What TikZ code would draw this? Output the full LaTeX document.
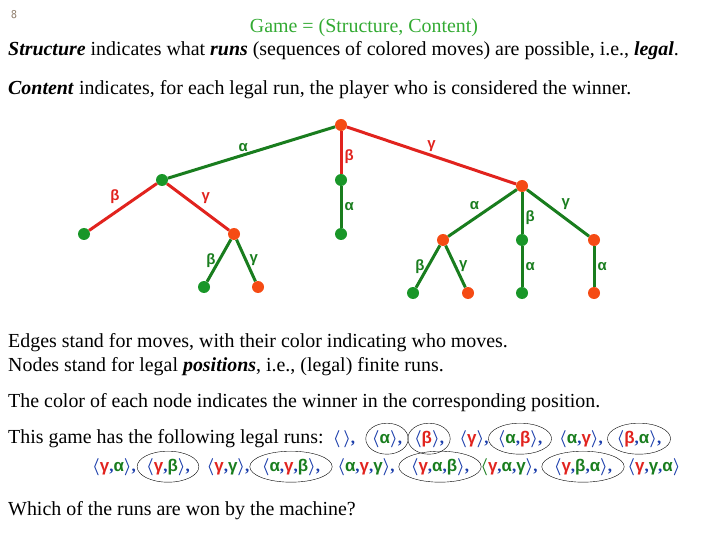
\documentclass[tikz,border=0pt]{standalone}
\usepackage{fontspec}
\setmainfont{Liberation Serif}
\newfontfamily\grkfont{Liberation Sans}
\usetikzlibrary{shapes.geometric}

\definecolor{movegreen}{RGB}{25,125,30}
\definecolor{movered}{RGB}{225,35,30}
\definecolor{nodegreen}{RGB}{25,150,40}
\definecolor{nodered}{RGB}{245,75,20}
\definecolor{titlegreen}{RGB}{50,170,50}
\definecolor{runblue}{RGB}{25,60,170}
\definecolor{pagegray}{RGB}{130,110,90}

\newcommand{\gmv}[1]{\textcolor{movegreen}{\grkfont\bfseries #1}}
\newcommand{\rmv}[1]{\textcolor{movered}{\grkfont\bfseries #1}}
\newcommand{\runL}{\textcolor{runblue}{\boldmath$\langle$}}
\newcommand{\runR}{\textcolor{runblue}{\boldmath$\rangle$}}
\newcommand{\runC}{\textcolor{runblue}{\textbf{,}}}

\tikzset{
    posn/.style={circle, inner sep=0pt, minimum size=12bp},
    gpos/.style={posn, fill=nodegreen},
    rpos/.style={posn, fill=nodered},
    gmove/.style={draw=movegreen, line width=3bp},
    rmove/.style={draw=movered, line width=3bp},
    glbl/.style={text=movegreen, font=\grkfont\bfseries\fontsize{15}{15}\selectfont, inner sep=2bp},
    rlbl/.style={text=movered, font=\grkfont\bfseries\fontsize{15}{15}\selectfont, inner sep=2bp},
    txt/.style={anchor=base west, inner sep=0pt, font=\fontsize{20}{24}\selectfont},
    run/.style={anchor=base, inner sep=0pt, font=\fontsize{17}{18}\selectfont},
    won/.style={run, ellipse, draw, thin, inner xsep=0pt, minimum height=31bp}
}

\begin{document}
\begin{tikzpicture}[x=1bp, y=-1bp]
    \useasboundingbox (0,0) rectangle (720,540);

    \node[anchor=base, text=pagegray, font=\sffamily\fontsize{12}{12}\selectfont] (page) at (14,19) {8};
    \node[anchor=base, inner sep=0pt, text=titlegreen, font=\fontsize{20}{24}\selectfont] (title) at (364,33) {Game = (Structure, Content)};
    \node[txt] (structure) at (8,56) {\textbf{\textit{Structure}} indicates what \textbf{\textit{runs}} (sequences of colored moves) are possible, i.e., \textbf{\textit{legal}}.};
    \node[txt] (content) at (8,95) {\textbf{\textit{Content}} indicates, for each legal run, the player who is considered the winner.};

    % positions
    \node[rpos] (r) at (341,125) {};
    \node[gpos] (a) at (162,180) {};
    \node[gpos] (ab) at (84,234) {};
    \node[rpos] (ag) at (234,234) {};
    \node[gpos] (agb) at (204,287) {};
    \node[rpos] (agg) at (258,287) {};
    \node[gpos] (b) at (341,180) {};
    \node[gpos] (ba) at (341,234) {};
    \node[rpos] (g) at (522,186) {};
    \node[rpos] (ga) at (443,240) {};
    \node[gpos] (gab) at (413,293) {};
    \node[rpos] (gag) at (468,293) {};
    \node[gpos] (gb) at (522,240) {};
    \node[gpos] (gba) at (522,293) {};
    \node[rpos] (gg) at (594,240) {};
    \node[rpos] (gga) at (594,293) {};

    % moves
    \draw[gmove] (r) -- node[glbl, above, pos=0.55] {α} (a);
    \draw[rmove] (r) -- node[rlbl, right, pos=0.6] {β} (b);
    \draw[rmove] (r) -- node[rlbl, above] {γ} (g);
    \draw[rmove] (a) -- node[rlbl, above left] {β} (ab);
    \draw[rmove] (a) -- node[rlbl, above right] {γ} (ag);
    \draw[gmove] (ag) -- node[glbl, left] {β} (agb);
    \draw[gmove] (ag) -- node[glbl, right] {γ} (agg);
    \draw[gmove] (b) -- node[glbl, right] {α} (ba);
    \draw[gmove] (g) -- node[glbl, above left] {α} (ga);
    \draw[gmove] (g) -- node[glbl, right, pos=0.6] {β} (gb);
    \draw[gmove] (g) -- node[glbl, above right] {γ} (gg);
    \draw[gmove] (ga) -- node[glbl, left] {β} (gab);
    \draw[gmove] (ga) -- node[glbl, right] {γ} (gag);
    \draw[gmove] (gb) -- node[glbl, right] {α} (gba);
    \draw[gmove] (gg) -- node[glbl, right] {α} (gga);

    \node[txt] (edges) at (8,347) {Edges stand for moves, with their color indicating who moves.};
    \node[txt] (nodes) at (8,371) {Nodes stand for legal \textbf{\textit{positions}}, i.e., (legal) finite runs.};
    \node[txt] (winner) at (8,407) {The color of each node indicates the winner in the corresponding position.};
    \node[txt] (legal) at (8,443) {This game has the following legal runs:};

    % legal runs, the circled ones are won by green
    \node[run] (e) at (344,443) {\runL\,\runR\runC};
    \node[won] (ra) at (387,443) {\runL\gmv{α}\runR\runC};
    \node[won] (rb) at (429,443) {\runL\rmv{β}\runR\runC};
    \node[run] (rg) at (474,443) {\runL\rmv{γ}\runR\runC};
    \node[won] (rab) at (520,443) {\runL\gmv{α}\runC\rmv{β}\runR\runC};
    \node[run] (rag) at (581,443) {\runL\gmv{α}\runC\rmv{γ}\runR\runC};
    \node[won] (rba) at (639,443) {\runL\rmv{β}\runC\gmv{α}\runR\runC};

    \node[run] (rga) at (114,471) {\runL\rmv{γ}\runC\gmv{α}\runR\runC};
    \node[won] (rgb) at (168,471) {\runL\rmv{γ}\runC\gmv{β}\runR\runC};
    \node[run] (rgg) at (228,471) {\runL\rmv{γ}\runC\gmv{γ}\runR\runC};
    \node[won] (ragb) at (291,471) {\runL\gmv{α}\runC\rmv{γ}\runC\gmv{β}\runR\runC};
    \node[run] (ragg) at (366,471) {\runL\gmv{α}\runC\rmv{γ}\runC\gmv{γ}\runR\runC};
    \node[won] (rgab) at (440,471) {\runL\rmv{γ}\runC\gmv{α}\runC\gmv{β}\runR\runC};
    \node[run] (rgag) at (509,471) {\textcolor{movegreen}{\boldmath$\langle$}\rmv{γ}\runC\gmv{α}\runC\gmv{γ}\runR\runC};
    \node[won] (rgba) at (583,471) {\runL\rmv{γ}\runC\gmv{β}\runC\gmv{α}\runR\runC};
    \node[run] (rgga) at (654,471) {\runL\rmv{γ}\runC\gmv{γ}\runC\gmv{α}\runR};

    \node[txt] (question) at (8,515) {Which of the runs are won by the machine?};
\end{tikzpicture}
\end{document}
